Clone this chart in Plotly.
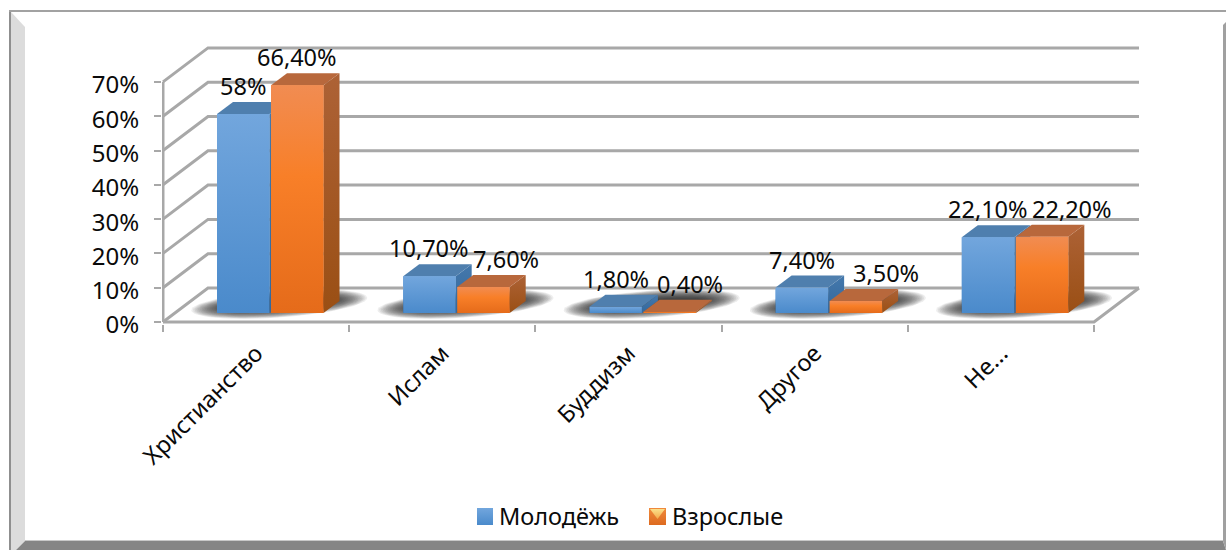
import numpy as np
import plotly.graph_objects as go

categories = ["Христианство", "Ислам", "Буддизм", "Другое", "Не..."]
youth = [58, 10.7, 1.8, 7.4, 22.1]
adults = [66.4, 7.6, 0.4, 3.5, 22.2]
youth_labels = ["58%", "10,70%", "1,80%", "7,40%", "22,10%"]
adult_labels = ["66,40%", "7,60%", "0,40%", "3,50%", "22,20%"]
series_names = ["Молодёжь", "Взрослые"]
y_ticks = [0, 10, 20, 30, 40, 50, 60, 70]
y_tick_labels = ["0%", "10%", "20%", "30%", "40%", "50%", "60%", "70%"]

W, H = 1226, 550
X0, Y0 = 163, 322        # pixel of the front-left origin
CAT_PX = 186.2           # px per category
VAL_PX = 3.43            # px per percent
PL, PR, PT, PB = 162, 1144, 46, 324
LEG_L, LEG_R, LEG_T, LEG_B = 470, 680, 504, 530
FONT = "Noto Sans"
TXT = "#0a0a0a"
GRID = "#a8a8a8"
WALL_DX, WALL_DY = 45, 34
DEPTH_DX, DEPTH_DY = 16, 12
BASE_LIFT = 9
BAR_START = 54
BAR_W = 52.5
BAR_GAP = 1.5


def ux(px):
    return px / CAT_PX


def uy(px):
    return px / VAL_PX


def fx(p):
    return p / W


def fy(p):
    return 1 - p / H


fig = go.Figure()


def poly(xs, ys, color=None, gradient=None, xaxis="x", yaxis="y"):
    kw = dict(fillgradient=gradient) if gradient else dict(fillcolor=color)
    fig.add_trace(go.Scatter(x=xs, y=ys, mode="lines", fill="toself", line=dict(width=0),
                             xaxis=xaxis, yaxis=yaxis,
                             hoverinfo="skip", showlegend=False, **kw))


def line(xs, ys, width=3, color=GRID):
    fig.add_trace(go.Scatter(x=xs, y=ys, mode="lines", line=dict(color=color, width=width),
                             hoverinfo="skip", showlegend=False))


n = len(categories)
wx, wy = ux(WALL_DX), uy(WALL_DY)
# walls and floor grid
for t in y_ticks:
    line([0, wx, n + wx], [t, t + wy, t + wy])
line([0, 0], [y_ticks[0], y_ticks[-1]])
line([0, n, n + wx], [0, 0, wy])

# soft floor shadows: skewed, stacked translucent blobs
for i in range(n):
    cx_px = BAR_START + BAR_W + BAR_GAP / 2 + 9
    cy_px = BASE_LIFT + 9
    t = np.linspace(0, 2 * np.pi, 80)
    for k in range(22):
        q = k / 21
        rx = 88 - 36 * q
        ry = 13.5 - 9 * q
        px_x = rx * np.cos(t)
        px_y = ry * np.sin(t) + px_x * 0.07
        poly(i + ux(cx_px + px_x), uy(cy_px + px_y), color="rgba(35,35,35,0.08)")

PALETTE = [
    dict(front=[[0, "#4a8acb"], [1, "#72a6dd"]], side=[[0, "#33689c"], [1, "#4478ac"]],
         top="#4f7fae", bar="#5a97d4"),
    dict(front=[[0, "#e56b1a"], [0.6, "#f87f28"], [1, "#f18c52"]],
         side=[[0, "#9a4f14"], [1, "#ad6236"]], top="#b8683c", bar="#f57d2c"),
]

base = uy(BASE_LIFT)
dx, dy = ux(DEPTH_DX), uy(DEPTH_DY)
for i in range(n):
    for s, vals in enumerate([youth, adults]):
        v = vals[i]
        left = i + ux(BAR_START + s * (BAR_W + BAR_GAP))
        right = left + ux(BAR_W)
        top = base + v
        st = PALETTE[s]
        grad_side = dict(type="vertical", colorscale=st["side"])
        grad_front = dict(type="vertical", colorscale=st["front"])
        poly([right, right + dx, right + dx, right, right],
             [base, base + dy, top + dy, top, base], gradient=grad_side)
        poly([left, left + dx, right + dx, right, left],
             [top, top + dy, top + dy, top, top], color=st["top"])
        fig.add_trace(go.Bar(x=[(left + right) / 2], y=[v], base=[base], width=[ux(BAR_W)],
                             name=series_names[s],
                             marker=dict(color=st["bar"], line=dict(width=0)),
                             hoverinfo="skip", showlegend=False))
        poly([left, right, right, left, left], [base, base, top, top, base], gradient=grad_front)

# data labels
x_shifts = [[0, 0, 0, 0, 0], [0, 23, 20, 30, 30]]
annotations = []
for s, (vals, labels) in enumerate([(youth, youth_labels), (adults, adult_labels)]):
    for i, (v, lab) in enumerate(zip(vals, labels)):
        cx = i + ux(BAR_START + s * (BAR_W + BAR_GAP) + BAR_W / 2)
        annotations.append(dict(x=cx, y=base + v, text=lab, showarrow=False, xanchor="center",
                                yanchor="middle", xshift=x_shifts[s][i], yshift=28,
                                font=dict(family=FONT, size=23.5, color=TXT)))


def px_shape(path, color):
    return dict(type="path", path=path, xref="paper", yref="paper", fillcolor=color,
                line=dict(width=0), layer="below")


def path(points):
    return "M" + " L".join(f"{fx(a):.5f},{fy(b):.5f}" for a, b in points) + " Z"


# legend: swatches (own small axes in page pixels) and their names
poly([477, 493, 493, 477, 477], [-525, -525, -508, -508, -525], xaxis="x2", yaxis="y2",
     gradient=dict(type="vertical", colorscale=[[0, "#4a8acb"], [1, "#72a6dd"]]))
poly([649, 666, 666, 649, 649], [-525, -525, -508, -508, -525], xaxis="x2", yaxis="y2",
     gradient=dict(type="vertical", colorscale=[[0, "#dd6a1f"], [1, "#f08a3c"]]))
poly([650, 665, 657.5, 650], [-509, -509, -519, -509], xaxis="x2", yaxis="y2",
     gradient=dict(type="vertical", colorscale=[[0, "#f4a94a"], [1, "#fbe08a"]]))
for name, tx in zip(series_names, [499, 672]):
    annotations.append(dict(xref="paper", yref="paper", x=fx(tx), y=fy(516), text=name,
                            showarrow=False, xanchor="left", yanchor="middle", xshift=-2,
                            font=dict(family=FONT, size=23.5, color=TXT)))

# card frame
shapes = [
    px_shape(path([(11, 12), (25, 27), (25, 541), (16, 550), (11, 550)]), "#dcdcdc"),
    px_shape(path([(9, 10), (11, 10), (11, 550), (9, 550)]), "#8f8f8f"),
    px_shape(path([(9, 10), (1226, 10), (1226, 12), (9, 12)]), "#a2a2a2"),
    px_shape(path([(25, 541), (1223, 541), (1226, 550), (16, 550)]), "#858585"),
    px_shape(path([(1223, 25), (1226, 22), (1226, 550), (1223, 541)]), "#a0a0a0"),
    px_shape(path([(25, 540), (1223, 540), (1223, 541), (25, 541)]), "#c8c8c8"),
]

fig.update_layout(
    width=W, height=H, autosize=False,
    margin=dict(l=0, r=0, t=0, b=0, pad=0, autoexpand=False),
    paper_bgcolor="white", plot_bgcolor="rgba(0,0,0,0)",
    barmode="overlay", showlegend=False,
    shapes=shapes, annotations=annotations,
    font=dict(family=FONT, size=22, color=TXT),
    xaxis=dict(domain=[fx(PL), fx(PR)], range=[ux(PL - X0), ux(PR - X0)], tickmode="array",
               tickvals=[i + 0.5 for i in range(n)], ticktext=categories, tickangle=-45,
               ticks="", ticklen=0, ticklabelstandoff=10, showgrid=False, zeroline=False,
               showline=False, fixedrange=True,
               tickfont=dict(family=FONT, size=23.5, color=TXT),
               minor=dict(tickmode="array", tickvals=list(range(n + 1)), ticks="outside",
                          ticklen=7, tickwidth=2, tickcolor=GRID, showgrid=False)),
    yaxis=dict(domain=[fy(PB), fy(PT)], range=[uy(Y0 - PB), uy(Y0 - PT)], tickmode="array",
               tickvals=y_ticks,
               ticktext=y_tick_labels, ticks="outside", ticklen=7, tickwidth=2, tickcolor=GRID,
               ticklabelstandoff=10, ticklabelshift=3, showgrid=False, zeroline=False,
               showline=False, fixedrange=True, tickfont=dict(family=FONT, size=24, color=TXT)),
    xaxis2=dict(domain=[fx(LEG_L), fx(LEG_R)], range=[LEG_L, LEG_R], visible=False,
                anchor="y2", fixedrange=True),
    yaxis2=dict(domain=[fy(LEG_B), fy(LEG_T)], range=[-LEG_B, -LEG_T], visible=False,
                anchor="x2", fixedrange=True),
)

fig.write_html("out.html", config=dict(displayModeBar=False),
               post_script="document.body.style.margin='0';")
